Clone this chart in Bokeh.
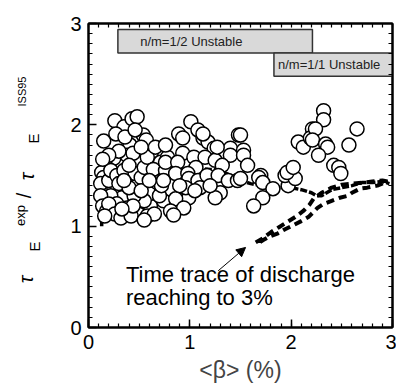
import math
from bokeh.plotting import figure
from bokeh.layouts import row
from bokeh.core.properties import value
from bokeh.models import (LinearAxis, FixedTicker, Label, Arrow, NormalHead, ColumnDataSource)
from bokeh.embed import file_html
from bokeh.resources import INLINE

# scatter data: <beta> (%) vs tau_E^exp / tau_E^ISS95
beta_pts = [0.15, 0.26, 0.35, 0.43, 0.48, 0.27, 0.54, 0.57, 0.41, 0.62, 0.71, 0.49, 0.33, 0.25, 0.18, 0.13,
            0.15, 0.25, 0.33, 0.38, 0.49, 0.61, 0.69, 0.49, 0.74, 0.22, 0.58,
            0.12, 0.12, 0.14, 0.18, 0.20, 0.22, 0.28, 0.30, 0.35, 0.38, 0.44, 0.46, 0.52, 0.55, 0.58, 0.64,
            0.66, 0.60, 0.55, 0.45, 0.40, 0.35, 0.28, 0.20, 0.26, 0.32, 0.42, 0.44, 0.52, 0.70, 0.72, 0.66,
            0.52, 0.30, 0.20, 0.40, 0.60, 0.76, 0.78, 0.14, 0.36, 0.46, 0.33, 0.65, 0.55, 0.16,
            1.01, 1.08, 0.89, 0.93, 1.13, 1.18, 1.24, 0.76, 1.40, 1.40, 1.48, 0.93, 1.04, 1.15, 1.25, 0.76,
            0.88, 1.32, 1.06, 0.86, 0.98, 0.74, 0.99, 1.08, 1.17, 1.28, 1.38, 1.47, 1.30, 1.25, 0.99, 0.86,
            0.81, 0.94, 0.84, 0.96, 1.27, 1.13, 1.10, 1.20, 0.90, 1.05,
            1.50, 1.53, 1.53, 1.57,
            1.70, 1.50, 1.68, 1.72, 1.82, 1.72, 1.63, 1.97, 1.94, 2.04, 1.96, 2.02, 2.07, 2.12,
            2.21, 2.19, 2.32, 2.32, 2.24, 2.65, 2.21, 2.34, 2.36, 2.57, 2.27, 2.42, 2.47, 2.49]
ratio_pts = [1.84, 2.04, 1.98, 2.06, 2.08, 1.91, 1.90, 1.85, 1.80, 1.73, 1.63, 1.62, 1.63, 1.67, 1.58, 1.53,
             1.48, 1.38, 1.28, 1.18, 1.12, 1.20, 1.47, 1.42, 1.25, 1.30, 1.10,
             1.42, 1.30, 1.20, 1.15, 1.45, 1.55, 1.50, 1.42, 1.55, 1.70, 1.72, 1.52, 1.48, 1.58, 1.68, 1.56,
             1.38, 1.32, 1.25, 1.30, 1.38, 1.45, 1.22, 1.22, 1.12, 1.08, 1.10, 1.20, 1.35, 1.30, 1.40, 1.78,
             1.78, 1.74, 1.70, 1.60, 1.45, 1.55, 1.68, 1.66, 1.88, 1.95, 1.17, 1.12, 1.06, 1.10,
             2.03, 1.95, 1.91, 1.87, 1.87, 1.83, 1.77, 1.80, 1.77, 1.70, 1.90, 1.72, 1.68, 1.68, 1.65, 1.63,
             1.63, 1.60, 1.58, 1.52, 1.52, 1.45, 1.47, 1.45, 1.50, 1.50, 1.45, 1.45, 1.33, 1.28, 1.28, 1.27,
             1.15, 1.18, 1.11, 1.38, 1.78, 1.91, 1.38, 1.40, 1.40, 1.35,
             1.90, 1.75, 1.70, 1.60,
             1.50, 1.47, 1.48, 1.43, 1.37, 1.28, 1.20, 1.40, 1.50, 1.47, 1.53, 1.58, 1.83, 1.78,
             1.96, 1.87, 2.14, 2.05, 1.96, 1.96, 1.85, 1.81, 1.78, 1.80, 1.70, 1.60, 1.58, 1.52]

# solid time trace
trace_beta = [0.13, 0.13, 0.15, 0.15, 0.18, 0.22, 0.30, 0.40, 0.50, 0.60, 0.70, 0.80, 0.90, 1.00, 1.10, 1.20,
              1.30, 1.40, 1.50, 1.60, 1.70, 1.80, 1.90, 2.00, 2.10, 2.20, 2.25, 2.30, 2.40, 2.50, 2.60, 2.70,
              2.80, 2.90, 2.97]
trace_ratio = [1.00, 1.10, 1.20, 1.37, 1.42, 1.45, 1.48, 1.50, 1.52, 1.53, 1.55, 1.55, 1.56, 1.57, 1.57, 1.56,
               1.55, 1.50, 1.45, 1.42, 1.40, 1.38, 1.38, 1.38, 1.36, 1.33, 1.30, 1.30, 1.36, 1.38, 1.40, 1.43,
               1.43, 1.44, 1.42]

# dashed time trace (discharge reaching 3%)
dash_beta = [1.65, 1.72, 1.80, 1.88, 1.96, 2.04, 2.12, 2.18, 2.22, 2.30, 2.40, 2.50, 2.60, 2.70, 2.80, 2.90, 2.95,
             2.85, 2.75, 2.68, 2.60, 2.56, 2.48, 2.40, 2.32, 2.26, 2.17, 2.10, 2.02, 1.94, 1.87, 1.79, 1.72, 1.66]
dash_ratio = [0.84, 0.88, 0.94, 0.99, 1.04, 1.09, 1.15, 1.21, 1.27, 1.33, 1.38, 1.41, 1.42, 1.43, 1.44, 1.45, 1.44,
              1.40, 1.38, 1.37, 1.33, 1.30, 1.28, 1.25, 1.22, 1.18, 1.09, 1.05, 1.01, 0.97, 0.93, 0.90, 0.86, 0.82]

# unstable regions
regions_left = [0.29, 1.83]
regions_right = [2.21, 3.0]
regions_bottom = [2.71, 2.48]
regions_top = [2.94, 2.71]
regions_text = ["n/m=1/2 Unstable", "n/m=1/1 Unstable"]
regions_text_x = [0.51, 1.87]
regions_text_y = [2.825, 2.595]

major_ticks = [0, 1, 2, 3]
minor_ticks = [i / 10 for i in range(31)]

# y-axis title pieces
ytitle_text = ["τ", "E", "exp", "/", "τ", "E", "ISS95"]

FONT = "Liberation Sans"
LEFT_W = 50
H = 385

p = figure(width=396 - LEFT_W, height=H, x_range=(0, 3), y_range=(0, 3),
           output_backend="svg", toolbar_location=None,
           min_border_left=88 - LEFT_W, min_border_right=4, min_border_top=23, min_border_bottom=58,
           x_axis_location=None, y_axis_location=None)
p.grid.visible = False
p.outline_line_color = "black"
p.outline_line_width = 2
p.background_fill_color = "white"
p.border_fill_color = "white"

def style_axis(ax):
    ax.ticker = FixedTicker(ticks=major_ticks, minor_ticks=minor_ticks)
    ax.axis_line_color = "black"
    ax.axis_line_width = 2
    ax.major_tick_in = 8
    ax.major_tick_out = 0
    ax.minor_tick_in = 4
    ax.minor_tick_out = 0
    ax.major_tick_line_width = 1.5
    ax.minor_tick_line_width = 1.2
    ax.major_label_text_font = FONT
    ax.major_label_text_font_size = "20px"
    ax.major_label_text_color = "black"
    ax.major_label_standoff = 7

def mirror_axis(side):
    a1 = LinearAxis(ticker=FixedTicker(ticks=[], minor_ticks=minor_ticks))
    a1.axis_line_color = "black"
    a1.axis_line_width = 2
    a1.minor_tick_in = 4
    a1.minor_tick_out = 0
    a1.minor_tick_line_width = 1.2
    a1.major_tick_in = 0
    a1.major_tick_out = 0
    a1.major_label_standoff = 0
    p.add_layout(a1, side)

xb = LinearAxis(axis_label="<β> (%)")
style_axis(xb)
xb.axis_label_text_font = FONT
xb.axis_label_text_font_size = "23px"
xb.axis_label_text_font_style = "normal"
xb.axis_label_standoff = 5
p.add_layout(xb, "below")

yl = LinearAxis()
style_axis(yl)
p.add_layout(yl, "left")

mirror_axis("above")
mirror_axis("right")

# unstable boxes
for i in range(len(regions_text)):
    p.quad(left=[regions_left[i]], right=[regions_right[i]], bottom=[regions_bottom[i]], top=[regions_top[i]],
           fill_color="#d9d9d9", line_color="#333333", line_width=1.5)
    p.add_layout(Label(x=regions_text_x[i], y=regions_text_y[i], text=regions_text[i],
                       text_font=FONT, text_font_size="13px", text_color="#222222",
                       text_baseline="middle", text_align="left"))

# time traces
p.line(trace_beta, trace_ratio, line_color="black", line_width=3.5, line_dash="7 2")
p.line(dash_beta, dash_ratio, line_color="black", line_width=4, line_dash="8 5")

# scatter circles
src = ColumnDataSource(dict(x=beta_pts, y=ratio_pts))
p.scatter("x", "y", source=src, size=14, marker="circle", fill_color="white",
          line_color="black", line_width=1.5)

# annotation text and arrow
p.add_layout(Label(x=0.37, y=0.395, text="Time trace of discharge", text_font=FONT,
                   text_font_size="22px", text_color="black"))
p.add_layout(Label(x=0.37, y=0.168, text="reaching to 3%", text_font=FONT,
                   text_font_size="22px", text_color="black"))
p.add_layout(Arrow(x_start=1.28, y_start=0.56, x_end=1.55, y_end=0.79, line_width=1,
                   end=NormalHead(size=9, fill_color="black", line_color="black")))

# left strip holding the rotated y-axis title
q = figure(frame_width=LEFT_W, frame_height=H, x_range=(0, LEFT_W), y_range=(H, 0),
           output_backend="svg", toolbar_location=None, title=None,
           min_border_left=0, min_border_right=0, min_border_top=0, min_border_bottom=0,
           x_axis_location=None, y_axis_location=None)
q.grid.visible = False
q.outline_line_color = None
q.border_fill_color = "white"
q.background_fill_color = "white"

ytitle_src = ColumnDataSource(dict(
    t=ytitle_text,
    cx=[25, 34, 20, 23, 26, 33, 21],
    cy=[256, 223, 192, 172, 153, 115, 68],
    fs=["20px", "15px", "13px", "20px", "20px", "15px", "11px"],
    st=["italic", "normal", "normal", "normal", "italic", "normal", "normal"],
))
q.text(x="cx", y="cy", text="t", source=ytitle_src, angle=math.pi / 2,
       text_font=value(FONT), text_font_size="fs", text_font_style="st", text_color="black",
       text_align="center", text_baseline="middle")

layout = row(q, p, spacing=0)
open("out.html", "w").write(file_html(layout, INLINE))
